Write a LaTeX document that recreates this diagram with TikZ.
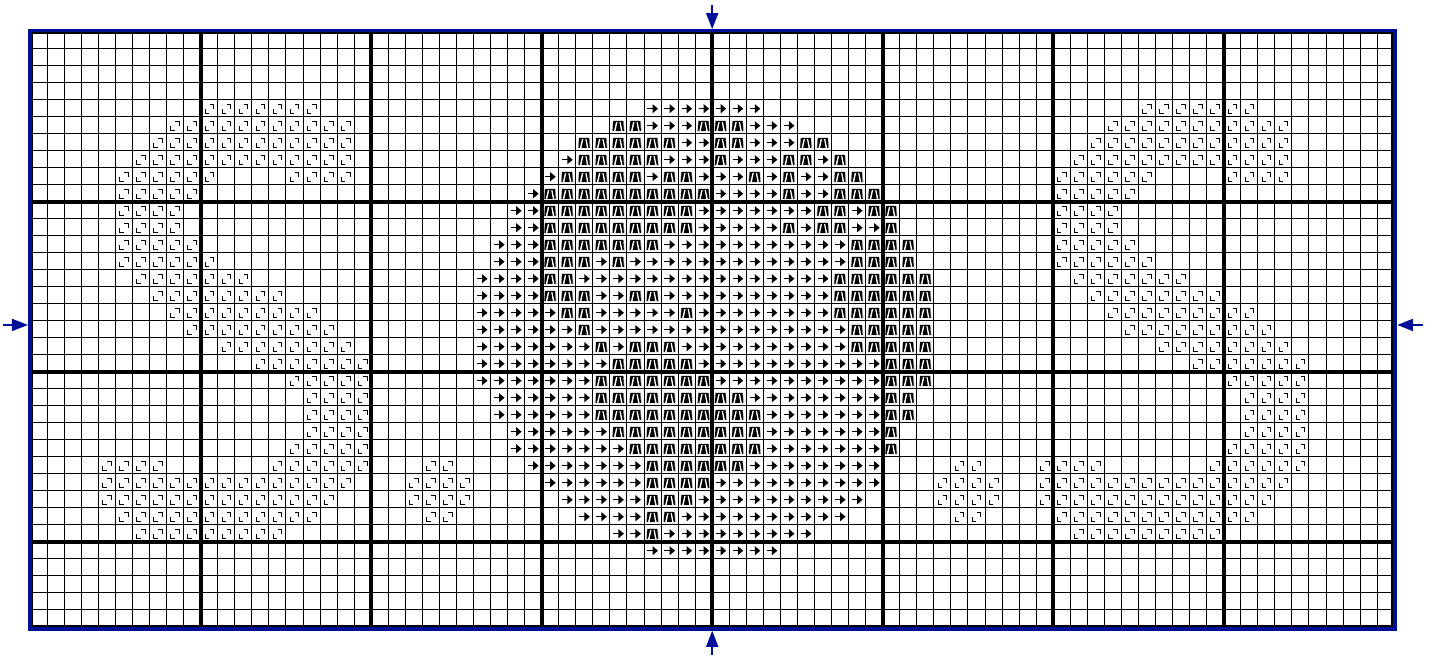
\documentclass[tikz,border=0pt]{standalone}
\definecolor{cFrame}{RGB}{0, 16, 150}
\tikzset{
  fine/.style  = {line width=1pt, black},
  tenth/.style = {line width=3.6pt, black},
  frameL/.style= {line width=3.6pt, cFrame},
  centre/.style= {line width=1.8pt, cFrame},
  headB/.style = {fill=cFrame, draw=none},
  hook/.style  = {line width=.9pt, black},
  %% one symbol per cell, (0,0) is the top left corner of the cell
  sqS/.pic = {
    \draw[hook] (.25,.55) -- (.25,.79) -- (.48,.79);
    \draw[hook] (.52,.29) -- (.76,.29) -- (.76,.53);
  },
  arS/.pic = {
    \draw[line width=1.1pt] (.2,.53) -- (.6,.53);
    \fill (.82,.53) -- (.50,.26) -- (.50,.80) -- cycle;
  },
  blS/.pic = {
    \fill[gray!45] (.17,.24) -- (.81,.24) -- (.88,.87) -- (.11,.87) -- cycle;
    \fill (.20,.24) -- (.78,.24) -- (.82,.83) -- (.16,.83) -- cycle;
    \fill[white] (.36,.32) -- (.44,.32) -- (.33,.83) -- (.24,.83) -- cycle;
    \fill[white] (.56,.32) -- (.63,.32) -- (.74,.83) -- (.65,.83) -- cycle;
  },
}

\begin{document}
\begin{tikzpicture}[x=17.05pt, y=-17pt]
\useasboundingbox (-1.7713,-1.8647) rectangle (82.3930,36.7824);

%% ─── Symbols ─────────────────────────────────────────────────────
%% side motif, drawn twice
\foreach \dx in {0,55} {
  \foreach \r/\a/\b in {4/10/16, 5/8/18, 6/7/18, 7/6/18, 8/5/10, 8/15/18,
      9/5/9, 10/5/8, 11/5/8, 12/5/9, 13/5/10, 14/6/12, 15/7/14, 16/8/16,
      17/9/17, 18/11/18, 19/13/19, 20/15/19, 21/16/19, 22/16/19, 23/16/19,
      24/15/19, 25/4/7, 25/14/19, 26/4/18, 27/4/17, 28/5/16, 29/6/14} {
    \foreach \c in {\a,...,\b}
      \pic at ({\c+\dx},\r) {sqS};
  }
}
%% small motif, drawn twice
\foreach \dx in {0,31} {
  \foreach \r/\a/\b in {25/23/24, 26/22/25, 27/22/25, 28/23/24} {
    \foreach \c in {\a,...,\b}
      \pic at ({\c+\dx},\r) {sqS};
  }
}
%% centre, arrows
\foreach \r/\a/\b in {4/36/42, 5/36/38, 5/42/44, 6/38/39, 6/42/44, 7/31/31,
    7/37/39, 7/41/43, 7/46/46, 8/30/30, 8/36/36, 8/39/41, 8/43/43, 8/45/46,
    9/29/29, 9/40/43, 9/45/46, 10/28/29, 10/39/45, 10/48/48, 11/28/29,
    11/39/43, 11/45/45, 11/48/49, 12/27/29, 12/37/47, 13/27/29, 13/33/33,
    13/35/47, 14/26/29, 14/32/46, 15/26/29, 15/33/34, 15/37/46, 16/26/30,
    16/33/37, 16/39/46, 17/26/31, 17/33/47, 18/26/32, 18/34/34, 18/38/47,
    19/26/33, 19/39/49, 20/26/32, 20/40/49, 21/27/32, 21/42/49, 22/27/32,
    22/43/49, 23/28/33, 23/43/49, 24/28/34, 24/43/49, 25/29/35, 25/42/49,
    26/30/35, 26/40/49, 27/31/35, 27/39/48, 28/32/35, 28/38/47, 29/34/35,
    29/37/45, 30/36/43} {
  \foreach \c in {\a,...,\b}
    \pic at (\c,\r) {arS};
}
%% centre, black cells
\foreach \r/\a/\b in {5/34/35, 5/39/41, 6/32/37, 6/40/41, 6/45/46, 7/32/36,
    7/40/40, 7/44/45, 7/47/47, 8/31/35, 8/37/38, 8/42/42, 8/44/44, 8/47/48,
    9/30/39, 9/44/44, 9/47/49, 10/30/38, 10/46/47, 10/49/50, 11/30/38,
    11/44/44, 11/46/47, 11/50/50, 12/30/36, 12/48/51, 13/30/32, 13/34/34,
    13/48/51, 14/30/31, 14/47/52, 15/30/32, 15/35/36, 15/47/52, 16/31/32,
    16/38/38, 16/47/52, 17/32/32, 17/48/52, 18/33/33, 18/35/37, 18/48/52,
    19/34/38, 19/50/52, 20/33/39, 20/50/52, 21/33/41, 21/50/51, 22/33/42,
    22/50/51, 23/34/42, 23/50/50, 24/35/42, 24/50/50, 25/36/41, 26/36/39,
    27/36/38, 28/36/37, 29/36/36} {
  \foreach \c in {\a,...,\b}
    \pic at (\c,\r) {blS};
}

%% ─── Grid ────────────────────────────────────────────────────────
\foreach \c in {1,...,79}
  \draw[fine] (\c,0) -- (\c,35);
\foreach \r in {1,...,34}
  \draw[fine] (0,\r) -- (80,\r);
\foreach \c in {10,20,...,70}
  \draw[tenth] (\c,0) -- (\c,35);
\foreach \r in {10,20,30}
  \draw[tenth] (0,\r) -- (80,\r);
\draw[tenth] (.08,0) rectangle (79.92,35);
\draw[frameL] (-.01,-.08) rectangle (80.05,35.14);

%% ─── Centre marks ────────────────────────────────────────────────
\draw[centre] (40,-1.57) -- (40,-1);
\fill[headB] (40,-.16) -- (39.63,-1.1) -- (40.37,-1.1) -- cycle;
\draw[centre] (40,36.66) -- (40,36.1);
\fill[headB] (40,35.24) -- (39.63,36.19) -- (40.37,36.19) -- cycle;
\draw[centre] (-1.6,17.25) -- (-1,17.25);
\fill[headB] (-.13,17.25) -- (-1.08,16.88) -- (-1.08,17.62) -- cycle;
\draw[centre] (81.7,17.25) -- (81,17.25);
\fill[headB] (80.19,17.25) -- (81.1,16.88) -- (81.1,17.62) -- cycle;

\end{tikzpicture}
\end{document}
